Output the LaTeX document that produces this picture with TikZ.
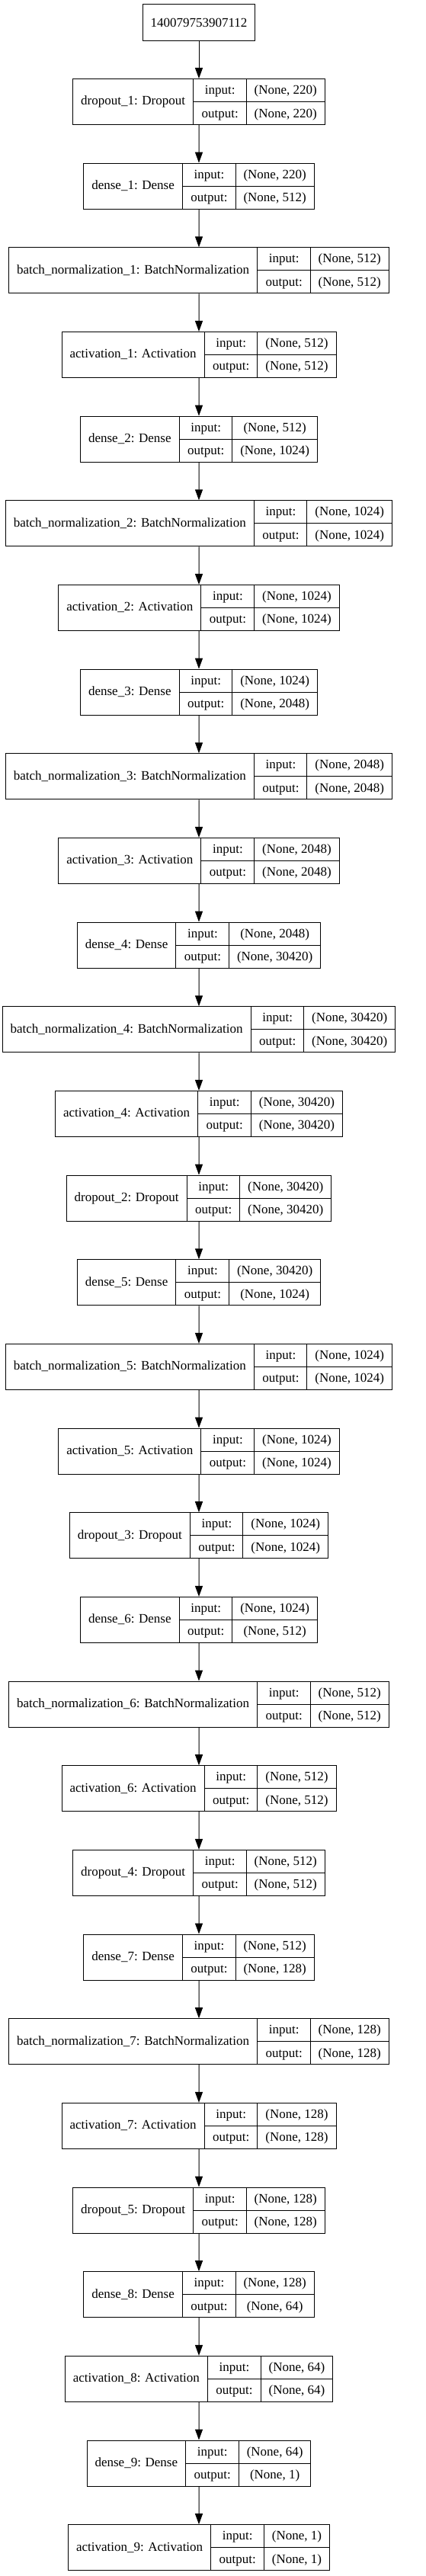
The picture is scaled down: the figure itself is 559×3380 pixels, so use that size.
\documentclass[tikz,border=0pt]{standalone}
\usepackage{fontspec}
\setmainfont{Liberation Serif}
\usetikzlibrary{arrows.meta}
\setlength{\tabcolsep}{10.5pt}
\setlength{\arrayrulewidth}{1pt}
\newcommand{\rowstrut}{\rule[-9.5pt]{0pt}{29.5pt}}
\newcommand{\layer}[3]{%
  \begin{tabular}{c|@{}c@{}}
  #1 &
  \begin{tabular}{c|c}
  \rowstrut input: & #2 \\ \hline
  \rowstrut output: & #3
  \end{tabular}
  \end{tabular}}

\begin{document}
\begin{tikzpicture}[x=1pt,y=1pt,
  grow=down,
  level 1/.style={level distance=103.5pt},
  level 2/.style={level distance=110.66pt},
  every node/.style={draw, inner sep=0pt, line width=1pt, font=\fontsize{17}{20}\selectfont},
  edge from parent/.style={draw, line width=1pt, -{Triangle[length=14pt,width=10pt]}}]
\useasboundingbox (0,0) rectangle (559,-3380);
\node (in) at (261,-30) [minimum height=48pt, inner xsep=10.5pt] {140079753907112}
child {node (d1) {\layer{dropout\_1: Dropout}{(None, 220)}{(None, 220)}}
child {node (fc1) {\layer{dense\_1: Dense}{(None, 220)}{(None, 512)}}
child {node (bn1) {\layer{batch\_normalization\_1: BatchNormalization}{(None, 512)}{(None, 512)}}
child {node (a1) {\layer{activation\_1: Activation}{(None, 512)}{(None, 512)}}
child {node (fc2) {\layer{dense\_2: Dense}{(None, 512)}{(None, 1024)}}
child {node (bn2) {\layer{batch\_normalization\_2: BatchNormalization}{(None, 1024)}{(None, 1024)}}
child {node (a2) {\layer{activation\_2: Activation}{(None, 1024)}{(None, 1024)}}
child {node (fc3) {\layer{dense\_3: Dense}{(None, 1024)}{(None, 2048)}}
child {node (bn3) {\layer{batch\_normalization\_3: BatchNormalization}{(None, 2048)}{(None, 2048)}}
child {node (a3) {\layer{activation\_3: Activation}{(None, 2048)}{(None, 2048)}}
child {node (fc4) {\layer{dense\_4: Dense}{(None, 2048)}{(None, 30420)}}
child {node (bn4) {\layer{batch\_normalization\_4: BatchNormalization}{(None, 30420)}{(None, 30420)}}
child {node (a4) {\layer{activation\_4: Activation}{(None, 30420)}{(None, 30420)}}
child {node (d2) {\layer{dropout\_2: Dropout}{(None, 30420)}{(None, 30420)}}
child {node (fc5) {\layer{dense\_5: Dense}{(None, 30420)}{(None, 1024)}}
child {node (bn5) {\layer{batch\_normalization\_5: BatchNormalization}{(None, 1024)}{(None, 1024)}}
child {node (a5) {\layer{activation\_5: Activation}{(None, 1024)}{(None, 1024)}}
child {node (d3) {\layer{dropout\_3: Dropout}{(None, 1024)}{(None, 1024)}}
child {node (fc6) {\layer{dense\_6: Dense}{(None, 1024)}{(None, 512)}}
child {node (bn6) {\layer{batch\_normalization\_6: BatchNormalization}{(None, 512)}{(None, 512)}}
child {node (a6) {\layer{activation\_6: Activation}{(None, 512)}{(None, 512)}}
child {node (d4) {\layer{dropout\_4: Dropout}{(None, 512)}{(None, 512)}}
child {node (fc7) {\layer{dense\_7: Dense}{(None, 512)}{(None, 128)}}
child {node (bn7) {\layer{batch\_normalization\_7: BatchNormalization}{(None, 128)}{(None, 128)}}
child {node (a7) {\layer{activation\_7: Activation}{(None, 128)}{(None, 128)}}
child {node (d5) {\layer{dropout\_5: Dropout}{(None, 128)}{(None, 128)}}
child {node (fc8) {\layer{dense\_8: Dense}{(None, 128)}{(None, 64)}}
child {node (a8) {\layer{activation\_8: Activation}{(None, 64)}{(None, 64)}}
child {node (fc9) {\layer{dense\_9: Dense}{(None, 64)}{(None, 1)}}
child {node (a9) {\layer{activation\_9: Activation}{(None, 1)}{(None, 1)}}
}}}}}}}}}}
}}}}}}}}}}
}}}}}}}}}};
\end{tikzpicture}
\end{document}
